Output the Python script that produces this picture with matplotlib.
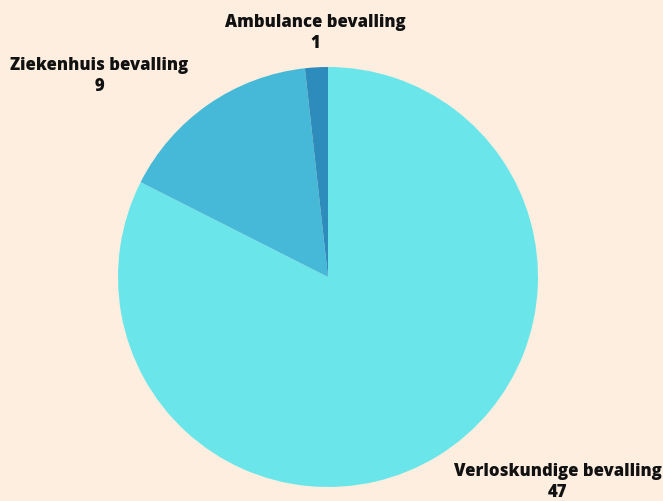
import matplotlib
matplotlib.use("Agg")
import matplotlib.pyplot as plt

categories = ["Verloskundige bevalling", "Ziekenhuis bevalling", "Ambulance bevalling"]
values = [47, 9, 1]
colors = ["#6AE6EA", "#45B9D7", "#2E8CBD"]

W, H = 663, 502
bg = "#FDEEE0"
fig = plt.figure(figsize=(W / 100, H / 100), dpi=100, facecolor=bg)
cx, cy, r = 328, 278, 210
ax = fig.add_axes([(cx - r) / W, (H - cy - r) / H, 2 * r / W, 2 * r / H])
ax.set_facecolor(bg)
ax.pie(values, colors=colors, startangle=90, counterclock=False, radius=1,
       wedgeprops=dict(linewidth=0))
ax.set_xlim(-1, 1)
ax.set_ylim(-1, 1)
ax.set_aspect("auto")
ax.axis("off")

label_pos = {
    "Ambulance bevalling": (315, 33),
    "Ziekenhuis bevalling": (99, 76),
    "Verloskundige bevalling": (558, 482),
}
for cat, v in zip(categories, values):
    x, y = label_pos[cat]
    fig.text(x / W, 1 - y / H, f"{cat}\n{v}", ha="center", va="center",
             fontsize=12, fontfamily="Open Sans", fontweight="black",
             color="#111111", linespacing=1.25)

fig.savefig("out.png", dpi=100, facecolor=bg)
